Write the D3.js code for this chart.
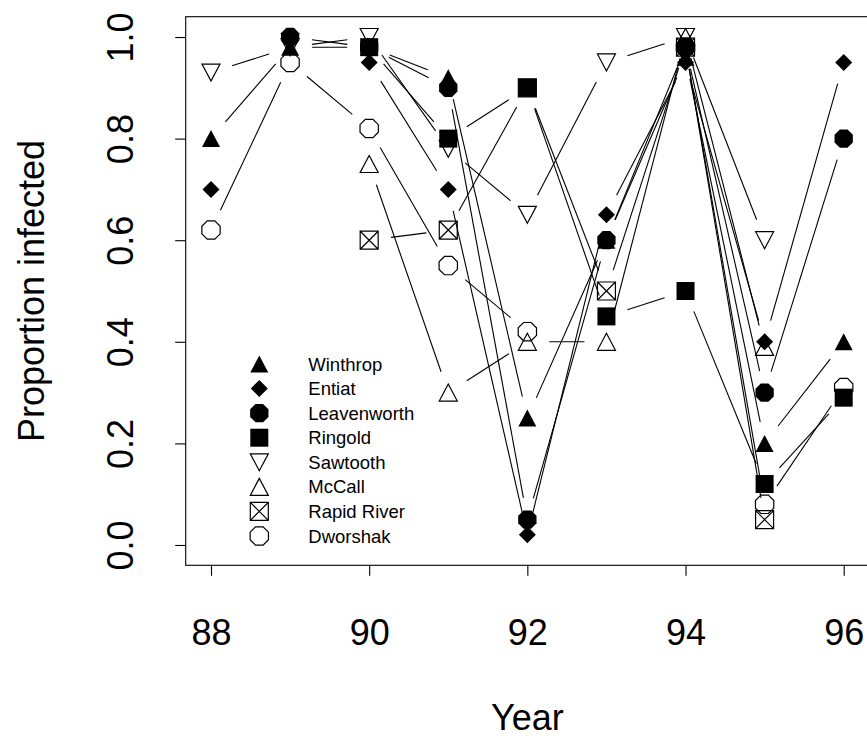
<!DOCTYPE html>
<html>
<head>
<meta charset="utf-8">
<script src="https://cdn.jsdelivr.net/npm/d3@7"></script>
<style>
  html, body { margin: 0; padding: 0; background: #fff; }
  svg { display: block; font-family: "Liberation Sans", Arial, Helvetica, sans-serif; }
</style>
</head>
<body>
<svg id="chart" width="867" height="738"></svg>
<script>
// Survey years (19xx) and proportion of fish infected at each hatchery
const years = [88, 89, 90, 91, 92, 93, 94, 95, 96];
const winthrop    = [0.80, 0.98, 0.98, 0.92, 0.25, 0.60, 0.96, 0.20, 0.40];
const entiat      = [0.70, null, 0.95, 0.70, 0.02, 0.65, 0.95, 0.40, 0.95];
const leavenworth = [null, 1.00, 0.98, 0.90, 0.05, 0.60, 0.98, 0.30, 0.80];
const ringold     = [null, null, 0.98, 0.80, 0.90, 0.45, 0.50, 0.12, 0.29];
const sawtooth    = [0.93, 0.98, 1.00, 0.78, 0.65, 0.95, 1.00, 0.60, null];
const mccall      = [null, null, 0.75, 0.30, 0.40, 0.40, 1.00, 0.39, null];
const rapidRiver  = [null, null, 0.60, 0.62, 0.90, 0.50, 0.98, 0.05, null];
const dworshak    = [0.62, 0.95, 0.82, 0.55, 0.42, null, 0.98, 0.08, 0.31];

const hatcheries = ["Winthrop", "Entiat", "Leavenworth", "Ringold", "Sawtooth", "McCall", "Rapid River", "Dworshak"];
const seriesValues = [winthrop, entiat, leavenworth, ringold, sawtooth, mccall, rapidRiver, dworshak];
const symbolKinds = ["triUpFilled", "diamondFilled", "octFilled", "squareFilled", "triDownOpen", "triUpOpen", "squareXOpen", "octOpen"];

const xTicks = [88, 90, 92, 94, 96];
const yTicks = [0, 0.2, 0.4, 0.6, 0.8, 1.0];

// Plot region (the right edge runs just past the page)
const plotLeft = 185.7, plotRight = 869, plotTop = 16.7, plotBottom = 565.3;
const x = d3.scaleLinear().domain([87.68, 96.32]).range([plotLeft, plotRight]);
const y = d3.scaleLinear().domain([-0.04, 1.04]).range([plotBottom, plotTop]);

// Margin text is laid out in "lines" of this height
const fontSize = 36;
const lineH = 44.3;

const svg = d3.select("#chart");

// Marker outlines, centred on (0,0)
function octagon(r) {
  const pts = d3.range(8).map(k => {
    const a = (22.5 + 45 * k) * Math.PI / 180;
    return [r * Math.cos(a), r * Math.sin(a)];
  });
  return "M" + pts.map(p => p[0].toFixed(2) + "," + p[1].toFixed(2)).join("L") + "Z";
}
function symbolPath(kind) {
  switch (kind) {
    case "triUpFilled":
    case "triUpOpen":    return "M0,-8.5L9,8.5L-9,8.5Z";
    case "triDownOpen":  return "M-9,-8.5L9,-8.5L0,8.5Z";
    case "diamondFilled":return "M0,-8.5L8.5,0L0,8.5L-8.5,0Z";
    case "squareFilled": return "M-9,-9H9V9H-9Z";
    case "squareXOpen":  return "M-9,-9H9V9H-9ZM-9,-9L9,9M9,-9L-9,9";
    case "octFilled":
    case "octOpen":      return octagon(9.9);
  }
}
function isFilled(kind) { return kind.endsWith("Filled"); }

function drawSymbol(g, kind, cx, cy) {
  g.append("path")
    .attr("transform", `translate(${cx},${cy})`)
    .attr("d", symbolPath(kind))
    .attr("fill", isFilled(kind) ? "#000" : "none")
    .attr("stroke", isFilled(kind) ? "none" : "#000")
    .attr("stroke-width", 1.2)
    .attr("stroke-linejoin", "miter");
}

// Series: broken line segments between observed years, then the markers
const gap = 22;
const plot = svg.append("g");
seriesValues.forEach((vals, si) => {
  const g = plot.append("g").attr("class", "series");
  for (let i = 0; i + 1 < years.length; i++) {
    if (vals[i] == null || vals[i + 1] == null) continue;
    const x1 = x(years[i]), y1 = y(vals[i]);
    const x2 = x(years[i + 1]), y2 = y(vals[i + 1]);
    const dx = x2 - x1, dy = y2 - y1, len = Math.hypot(dx, dy);
    if (len <= 2 * gap) continue;
    const ux = dx / len, uy = dy / len;
    g.append("line")
      .attr("x1", x1 + ux * gap).attr("y1", y1 + uy * gap)
      .attr("x2", x2 - ux * gap).attr("y2", y2 - uy * gap)
      .attr("stroke", "#000").attr("stroke-width", 1.1);
  }
  years.forEach((yr, i) => {
    if (vals[i] == null) return;
    drawSymbol(g, symbolKinds[si], x(yr), y(vals[i]));
  });
});

// Plot frame
svg.append("rect")
  .attr("x", plotLeft).attr("y", plotTop)
  .attr("width", plotRight - plotLeft).attr("height", plotBottom - plotTop)
  .attr("fill", "none").attr("stroke", "#000").attr("stroke-width", 1.1);

// Axes
const xAxis = svg.append("g")
  .attr("transform", `translate(0,${plotBottom})`)
  .call(d3.axisBottom(x).tickValues(xTicks).tickSize(10.5).tickFormat(d3.format("d")));
xAxis.select(".domain").remove();
xAxis.selectAll(".tick line").attr("stroke", "#000").attr("stroke-width", 1.1);
xAxis.selectAll(".tick text")
  .attr("y", 1.8 * lineH).attr("dy", null)
  .attr("font-size", fontSize).attr("font-family", null).attr("fill", "#000");

const yAxis = svg.append("g")
  .attr("transform", `translate(${plotLeft},0)`)
  .call(d3.axisLeft(y).tickValues(yTicks).tickSize(10.5).tickFormat(d3.format(".1f")));
yAxis.select(".domain").remove();
yAxis.selectAll(".tick line").attr("stroke", "#000").attr("stroke-width", 1.1);
yAxis.selectAll(".tick text")
  .attr("transform", "rotate(-90)")
  .attr("x", 0).attr("y", -1.2 * lineH).attr("dy", null)
  .attr("text-anchor", "middle")
  .attr("font-size", fontSize).attr("font-family", null).attr("fill", "#000");

// Axis titles (the x title sits on the last margin line, kept inside the page)
svg.append("text")
  .attr("x", (plotLeft + plotRight) / 2).attr("y", 729.5)
  .attr("text-anchor", "middle").attr("font-size", fontSize)
  .text("Year");
svg.append("text")
  .attr("transform", `translate(${plotLeft - 3.2 * lineH},${(plotTop + plotBottom) / 2}) rotate(-90)`)
  .attr("text-anchor", "middle").attr("font-size", fontSize)
  .text("Proportion infected");

// Legend
const legend = svg.append("g");
const legendY0 = 364, legendStep = 24.57;
hatcheries.forEach((name, i) => {
  const cy = legendY0 + i * legendStep;
  drawSymbol(legend, symbolKinds[i], 259.3, cy);
  legend.append("text")
    .attr("x", 308.3).attr("y", cy + 6.6)
    .attr("font-size", 18.5)
    .text(name);
});
</script>
</body>
</html>
